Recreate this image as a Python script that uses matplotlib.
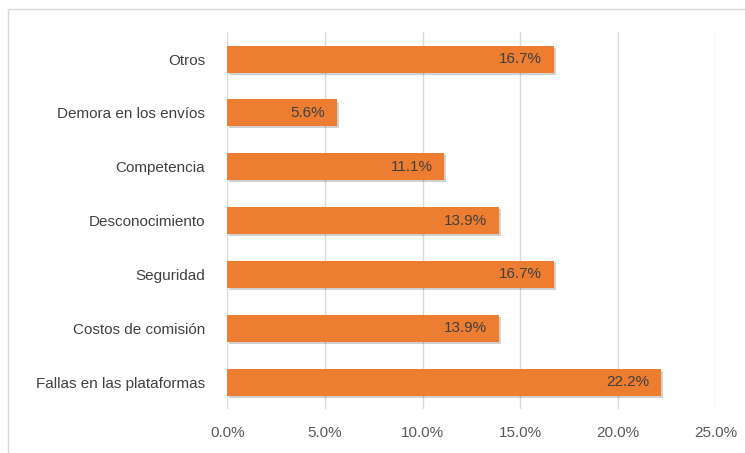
import matplotlib
matplotlib.use("Agg")
import matplotlib.pyplot as plt
import matplotlib.patheffects as pe
from matplotlib.patches import Rectangle

categories = [
    "Fallas en las plataformas",
    "Costos de comisión",
    "Seguridad",
    "Desconocimiento",
    "Competencia",
    "Demora en los envíos",
    "Otros",
]
values = [22.2, 13.9, 16.7, 13.9, 11.1, 5.6, 16.7]
xticks = [0, 5, 10, 15, 20, 25]

plt.rcParams["font.family"] = ["Liberation Sans Narrow", "Liberation Sans", "DejaVu Sans"]

fig = plt.figure(figsize=(7.45, 4.53), dpi=100)
ax = fig.add_axes([0.305, 0.097, 0.656, 0.832])

bars = ax.barh(range(len(categories)), values, height=0.5, color="#ED7D31", zorder=3)
for b in bars:
    b.set_path_effects([pe.SimplePatchShadow(offset=(1.5, -1.5), shadow_rgbFace="#000000", alpha=0.18),
                        pe.Normal()])

for i, v in enumerate(values):
    ax.text(v - 0.6, i, f"{v:.1f}%", ha="right", va="center", fontsize=11,
            color="#404040", zorder=4)

ax.set_xlim(0, 25)
ax.set_ylim(-0.5, len(categories) - 0.5)
ax.set_xticks(xticks)
ax.set_xticklabels([f"{t:.1f}%" for t in xticks], fontsize=11, color="#595959")
ax.set_yticks(range(len(categories)))
ax.set_yticklabels(categories, fontsize=11, color="#404040")
ax.tick_params(axis="x", length=0, pad=12)
ax.tick_params(axis="y", length=0, pad=16)
ax.grid(axis="x", color="#d9d9d9", linewidth=1, zorder=0)
for s in ax.spines.values():
    s.set_visible(False)

# outer chart border
fig.patches.append(Rectangle((0.011, -0.02), 1.2, 1.0, transform=fig.transFigure,
                             fill=False, edgecolor="#d9d9d9", linewidth=1))

fig.savefig("out.png", dpi=100)
